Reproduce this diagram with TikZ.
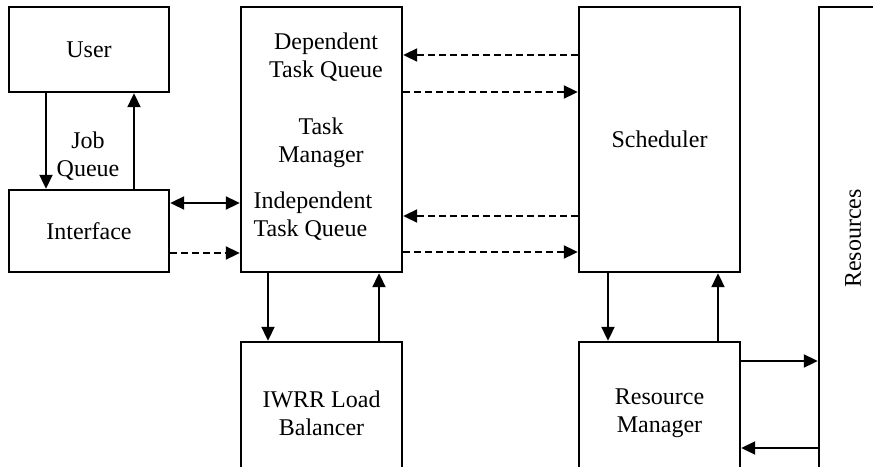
\documentclass[tikz,border=0pt]{standalone}
\usepackage{fontspec}
\setmainfont{Liberation Serif}
\usetikzlibrary{arrows.meta}
\tikzset{
  blk/.style={ draw, line width=1.2pt, inner sep=0pt, align=center }
}
\tikzset{
  arrS/.style={ -{Triangle[length=7pt,width=6.5pt]}, line width=1pt }
}
\tikzset{
  arrD/.style={ arrS, dash pattern=on 3.5pt off 2pt }
}
\tikzset{
  arrB/.style={ {Triangle[length=7pt,width=6.5pt]}-{Triangle[length=7pt,width=6.5pt]}, line width=1pt }
}

\begin{document}
\begin{tikzpicture}[x=0.5pt, y=-0.5pt, font=\fontsize{12}{14}\selectfont]
      \useasboundingbox (0,0) rectangle (873,466);
      \clip (0,0) rectangle (873,466);
      % boxes
      \node[blk, minimum width=80pt, minimum height=42.5pt] (user) at (89,49.5) {User};
      \node[blk, minimum width=80pt, minimum height=41pt] (iface) at (89,231) {Interface};
      \node[blk, minimum width=80.5pt, minimum height=132.5pt] (tm) at (321.5,139.5) {};
      \node[blk, minimum width=80.5pt, minimum height=132.5pt] (sched) at (659.5,139.5) {Scheduler};
      \node[blk, minimum width=80.5pt, minimum height=71pt] (lb) at (321.5,413) {IWRR Load\\Balancer};
      \node[blk, minimum width=80.5pt, minimum height=71pt] (rm) at (659.5,413) {Resource\\Manager};
      \node[blk, minimum width=34pt, minimum height=231.5pt] (res) at (853,238.5) {};
      % texts
      \node[align=center] (dq) at (326,57) {Dependent\\Task Queue};
      \node[align=center] (tmlab) at (321,143) {Task\\Manager};
      \node[align=left] (iq) at (313,216) {Independent\\Task Queue};
      \node[align=center] (jq) at (88,156) {Job\\Queue};
      \node[rotate=90] (reslab) at (res.center) {Resources};
      % connectors
      \draw[arrS] (user.south -| 46,0) -- (iface.north -| 46,0);
      \draw[arrS] (iface.north -| 134,0) -- (user.south -| 134,0);
      \draw[arrB] (iface.east |- 0,203) -- (tm.west |- 0,203);
      \draw[arrD] (iface.east |- 0,253) -- (tm.west |- 0,253);
      \draw[arrD] (sched.west |- 0,55) -- (tm.east |- 0,55);
      \draw[arrD] (tm.east |- 0,92) -- (sched.west |- 0,92);
      \draw[arrD] (sched.west |- 0,216) -- (tm.east |- 0,216);
      \draw[arrD] (tm.east |- 0,252) -- (sched.west |- 0,252);
      \draw[arrS] (tm.south -| 268,0) -- (lb.north -| 268,0);
      \draw[arrS] (lb.north -| 379,0) -- (tm.south -| 379,0);
      \draw[arrS] (sched.south -| 608,0) -- (rm.north -| 608,0);
      \draw[arrS] (rm.north -| 718,0) -- (sched.south -| 718,0);
      \draw[arrS] (rm.east |- 0,361) -- (res.west |- 0,361);
      \draw[arrS] (res.west |- 0,448) -- (rm.east |- 0,448);
\end{tikzpicture}
\end{document}
